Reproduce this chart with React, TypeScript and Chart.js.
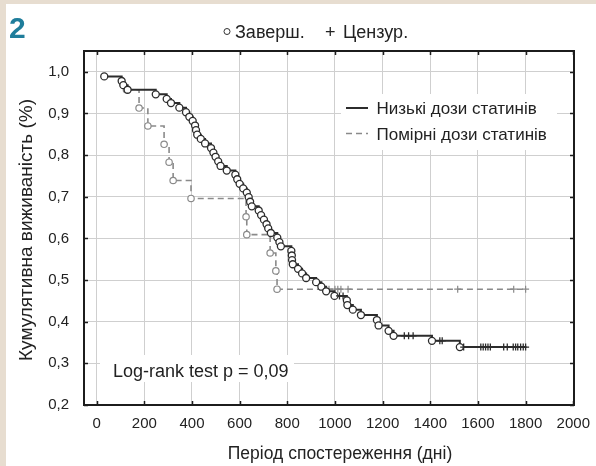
import { useEffect, useRef } from 'react';
import { Chart, registerables } from 'chart.js';

Chart.register(...registerables);

const FONT = '"Liberation Sans", Arial, Helvetica, sans-serif';

// Axis ticks
const xTickValues = [0, 200, 400, 600, 800, 1000, 1200, 1400, 1600, 1800, 2000];
const yTickValues = [0.2, 0.3, 0.4, 0.5, 0.6, 0.7, 0.8, 0.9, 1.0];
const yTickLabels = ['0,2', '0,3', '0,4', '0,5', '0,6', '0,7', '0,8', '0,9', '1,0'];

// Texts
const panelNumber = '2';
const markerLabels = ['Заверш.', 'Цензур.'];
const seriesNames = ['Низькі дози статинів', 'Помірні дози статинів'];
const pValueText = 'Log-rank test p = 0,09';
const xTitle = 'Період спостереження (дні)';
const yTitle = 'Кумулятивна виживаність (%)';

// Low-dose group: day, cumulative survival, status (1 = event, 0 = censored)
const lowDays = [
  32, 105, 112, 130, 248, 294, 312, 347, 375, 389,
  403, 413, 417, 422, 437, 455, 480, 490, 499, 510,
  520, 546, 582, 590, 600, 615, 630, 638, 644, 651,
  680, 690, 702, 713, 720, 731, 758, 767, 773, 817,
  819, 820, 823, 845, 862, 879, 921, 943, 963, 998,
  1019, 1034, 1050, 1052, 1075, 1109, 1176, 1183, 1225, 1246,
  1291, 1309, 1328, 1407, 1440, 1450, 1524, 1540, 1612, 1622,
  1632, 1642, 1652, 1708, 1723, 1748, 1758, 1767, 1779, 1790, 1800,
];
const lowSurv = [
  0.989, 0.978, 0.968, 0.957, 0.946, 0.935, 0.925, 0.914, 0.903, 0.892,
  0.882, 0.871, 0.860, 0.849, 0.839, 0.828, 0.817, 0.806, 0.796, 0.785,
  0.774, 0.763, 0.753, 0.742, 0.731, 0.720, 0.710, 0.699, 0.688, 0.677,
  0.667, 0.656, 0.645, 0.634, 0.624, 0.613, 0.602, 0.591, 0.581, 0.570,
  0.559, 0.548, 0.538, 0.527, 0.516, 0.505, 0.495, 0.484, 0.473, 0.462,
  0.462, 0.462, 0.451, 0.440, 0.429, 0.416, 0.404, 0.391, 0.378, 0.366,
  0.366, 0.366, 0.366, 0.354, 0.354, 0.354, 0.339, 0.339, 0.339, 0.339,
  0.339, 0.339, 0.339, 0.339, 0.339, 0.339, 0.339, 0.339, 0.339, 0.339, 0.339,
];
const lowStatus = [
  1, 1, 1, 1, 1, 1, 1, 1, 1, 1,
  1, 1, 1, 1, 1, 1, 1, 1, 1, 1,
  1, 1, 1, 1, 1, 1, 1, 1, 1, 1,
  1, 1, 1, 1, 1, 1, 1, 1, 1, 1,
  1, 1, 1, 1, 1, 1, 1, 1, 1, 1,
  0, 0, 1, 1, 1, 1, 1, 1, 1, 1,
  0, 0, 0, 1, 0, 0, 1, 0, 0, 0,
  0, 0, 0, 0, 0, 0, 0, 0, 0, 0, 0,
];

// Moderate-dose group
const modDays = [125, 178, 215, 283, 304, 321, 396, 627, 630, 728, 752, 757, 975, 1000, 1012, 1025, 1055, 1515, 1750, 1800];
const modSurv = [0.957, 0.913, 0.870, 0.826, 0.783, 0.739, 0.696, 0.652, 0.609, 0.565, 0.522, 0.478, 0.478, 0.478, 0.478, 0.478, 0.478, 0.478, 0.478, 0.478];
const modStatus = [1, 1, 1, 1, 1, 1, 1, 1, 1, 1, 1, 1, 0, 0, 0, 0, 0, 0, 0, 0];

const LOW_COLOR = '#2c2c2c';
const MOD_COLOR = '#8a8a8a';
const TEXT_COLOR = '#222222';

function toPoints(days: number[], surv: number[]) {
  return days.map((d, i) => ({ x: d, y: surv[i] }));
}

const decorPlugin = {
  id: 'decor',
  beforeDraw(chart: any) {
    const { ctx, width, height } = chart;
    ctx.save();
    ctx.fillStyle = '#e7ddd0';
    ctx.fillRect(0, 0, width, height);
    ctx.fillStyle = '#ffffff';
    ctx.fillRect(6, 4, width - 6, height - 4);
    ctx.restore();
  },
  beforeDatasetsDraw(chart: any) {
    const { ctx } = chart;
    ctx.save();
    // legend box inside the plot
    ctx.fillStyle = '#ffffff';
    ctx.fillRect(341, 94, 216, 56);
    ctx.strokeStyle = LOW_COLOR;
    ctx.lineWidth = 2;
    ctx.beginPath();
    ctx.moveTo(346, 108);
    ctx.lineTo(368, 108);
    ctx.stroke();
    ctx.strokeStyle = MOD_COLOR;
    ctx.lineWidth = 1.6;
    ctx.setLineDash([6, 4]);
    ctx.beginPath();
    ctx.moveTo(346, 133.5);
    ctx.lineTo(368, 133.5);
    ctx.stroke();
    ctx.setLineDash([]);
    ctx.fillStyle = TEXT_COLOR;
    ctx.font = `17px ${FONT}`;
    ctx.textAlign = 'left';
    ctx.textBaseline = 'alphabetic';
    ctx.fillText(seriesNames[0], 376.5, 114);
    ctx.fillText(seriesNames[1], 376.5, 139.5);

    // log-rank box
    ctx.fillStyle = '#ffffff';
    ctx.fillRect(100, 355, 194, 27);
    ctx.fillStyle = TEXT_COLOR;
    ctx.font = `18px ${FONT}`;
    ctx.fillText(pValueText, 113, 377);
    ctx.restore();
  },
  afterDraw(chart: any) {
    const { ctx, chartArea } = chart;
    const { left, right, top, bottom } = chartArea;
    const xs = chart.scales.x;
    const ys = chart.scales.y;
    ctx.save();
    // frame
    ctx.strokeStyle = '#1c1c1c';
    ctx.lineWidth = 2;
    ctx.strokeRect(left, top, right - left, bottom - top);
    // inward tick marks
    ctx.lineWidth = 1.5;
    ctx.beginPath();
    xTickValues.forEach((v) => {
      const px = Math.round(xs.getPixelForValue(v)) + 0.5;
      ctx.moveTo(px, bottom);
      ctx.lineTo(px, bottom - 4);
      ctx.moveTo(px, top);
      ctx.lineTo(px, top + 4);
    });
    yTickValues.forEach((v) => {
      const py = Math.round(ys.getPixelForValue(v)) + 0.5;
      ctx.moveTo(left, py);
      ctx.lineTo(left + 4, py);
      ctx.moveTo(right, py);
      ctx.lineTo(right - 4, py);
    });
    ctx.stroke();

    // panel number
    ctx.fillStyle = '#1f7d9b';
    ctx.font = `bold 30px ${FONT}`;
    ctx.textAlign = 'left';
    ctx.textBaseline = 'alphabetic';
    ctx.fillText(panelNumber, 9, 38);

    // marker key at the top
    ctx.strokeStyle = '#333333';
    ctx.lineWidth = 1;
    ctx.beginPath();
    ctx.arc(227, 31.5, 3, 0, Math.PI * 2);
    ctx.stroke();
    ctx.fillStyle = TEXT_COLOR;
    ctx.font = `18px ${FONT}`;
    ctx.fillText(markerLabels[0], 235, 38);
    ctx.fillText('+', 325, 38);
    ctx.fillText(markerLabels[1], 343, 38);

    // axis titles
    ctx.font = `17.5px ${FONT}`;
    ctx.textAlign = 'center';
    ctx.fillText(xTitle, 340, 459);
    ctx.font = `19px ${FONT}`;
    ctx.translate(27, 230);
    ctx.rotate(-Math.PI / 2);
    ctx.textBaseline = 'middle';
    ctx.fillText(yTitle, 0, 0);
    ctx.restore();
  },
};

export default function App() {
  const canvasRef = useRef<HTMLCanvasElement | null>(null);

  useEffect(() => {
    const canvas = canvasRef.current;
    if (!canvas) return;
    const chart = new Chart(canvas, {
      type: 'line',
      data: {
        datasets: [
          {
            label: seriesNames[0],
            data: toPoints(lowDays, lowSurv),
            stepped: 'before',
            borderColor: LOW_COLOR,
            borderWidth: 2,
            fill: false,
            pointStyle: lowStatus.map((s) => (s ? 'circle' : 'cross')),
            pointRadius: lowStatus.map((s) => (s ? 3.5 : 3.5)),
            pointHoverRadius: lowStatus.map((s) => (s ? 3.5 : 3.5)),
            pointBorderWidth: 1.3,
            pointBorderColor: LOW_COLOR,
            pointBackgroundColor: '#ffffff',
          },
          {
            label: seriesNames[1],
            data: toPoints(modDays, modSurv),
            stepped: 'before',
            borderColor: MOD_COLOR,
            borderWidth: 1.6,
            borderDash: [6, 4],
            fill: false,
            pointStyle: modStatus.map((s) => (s ? 'circle' : 'cross')),
            pointRadius: modStatus.map((s) => (s ? 3.2 : 3.5)),
            pointHoverRadius: modStatus.map((s) => (s ? 3.2 : 3.5)),
            pointBorderWidth: 1.2,
            pointBorderColor: MOD_COLOR,
            pointBackgroundColor: '#ffffff',
          },
        ],
      },
      options: {
        responsive: false,
        animation: false,
        devicePixelRatio: 1,
        events: [],
        layout: { padding: { top: 51, right: 22, left: 0, bottom: 0 } },
        plugins: {
          legend: { display: false },
          tooltip: { enabled: false },
        },
        scales: {
          x: {
            type: 'linear',
            min: -53,
            max: 2003,
            afterBuildTicks: (scale: any) => {
              scale.ticks = xTickValues.map((v) => ({ value: v }));
            },
            afterFit: (scale: any) => {
              scale.height = 61;
              scale.paddingLeft = 0;
              scale.paddingRight = 0;
            },
            grid: { color: '#cfcfcf', lineWidth: 1, drawTicks: false },
            border: { display: false },
            ticks: {
              autoSkip: false,
              maxRotation: 0,
              padding: 10,
              color: TEXT_COLOR,
              font: { family: FONT, size: 15 },
              callback: (_v: any, i: number) => String(xTickValues[i]),
            },
          },
          y: {
            type: 'linear',
            min: 0.2,
            max: 1.05,
            afterBuildTicks: (scale: any) => {
              scale.ticks = yTickValues.map((v) => ({ value: v }));
            },
            afterFit: (scale: any) => {
              scale.width = 84;
              scale.paddingTop = 0;
              scale.paddingBottom = 0;
            },
            grid: { color: '#cfcfcf', lineWidth: 1, drawTicks: false },
            border: { display: false },
            ticks: {
              autoSkip: false,
              padding: 15,
              color: TEXT_COLOR,
              font: { family: FONT, size: 15 },
              callback: (_v: any, i: number) => yTickLabels[i],
            },
          },
        },
      },
      plugins: [decorPlugin],
    } as any);
    return () => chart.destroy();
  }, []);

  return (
    <div style={{ position: 'fixed', left: 0, top: 0, width: 596, height: 466 }}>
      <canvas ref={canvasRef} width={596} height={466} style={{ display: 'block' }} />
    </div>
  );
}
